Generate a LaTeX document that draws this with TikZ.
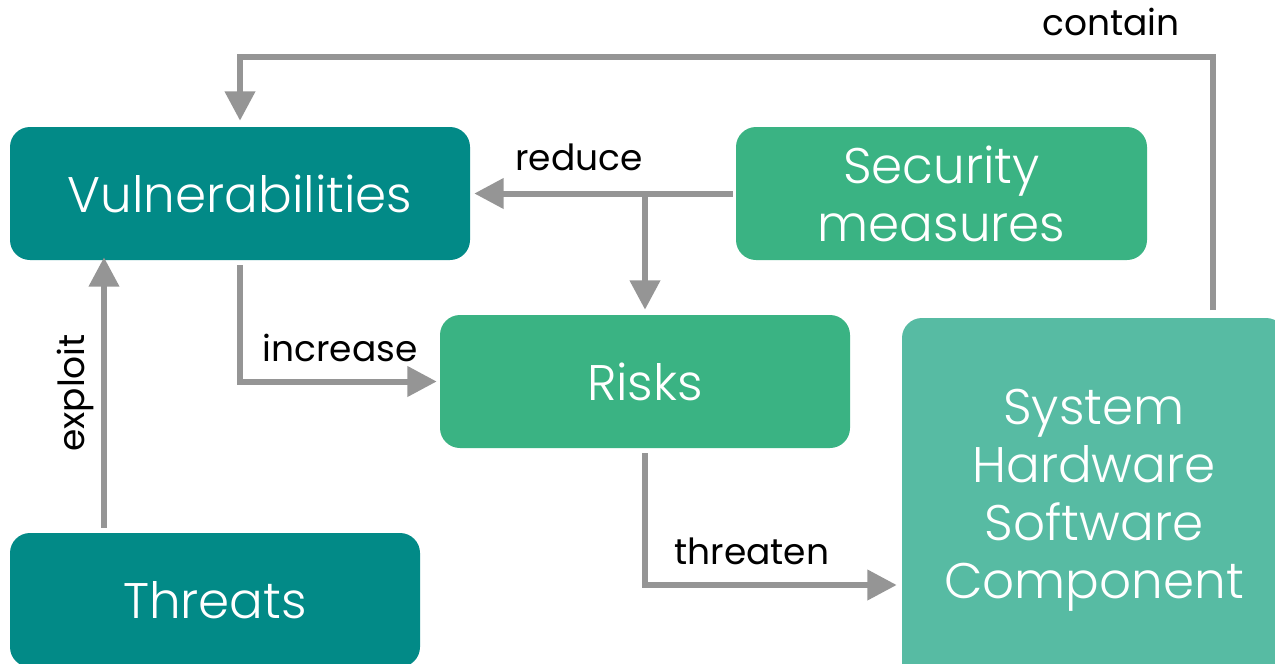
\documentclass[tikz,border=0pt]{standalone}
\usepackage{fontspec}
\setmainfont{Poppins}
\newfontfamily\lightfont{Poppins Light}
\usetikzlibrary{arrows.meta,calc}
\definecolor{teal1}{HTML}{028A87}
\definecolor{green1}{HTML}{3AB383}
\definecolor{green2}{HTML}{57BBA3}
\definecolor{arrgray}{HTML}{959595}
\begin{document}
\begin{tikzpicture}[x=0.75pt,y=-0.75pt,
  box/.style={rounded corners=15pt, text=white, align=center, inner sep=0pt,
    font=\lightfont\fontsize{37.5}{43.5}\selectfont},
  arr/.style={draw=arrgray, line width=4.5pt, -{Triangle[length=22pt,width=22pt]}},
  lab/.style={font=\fontsize{27}{30}\selectfont, text=black, inner sep=0pt}]
\useasboundingbox (0,0) rectangle (1275,664);
\node[box, fill=teal1, minimum width=345pt, minimum height=99.75pt] (vul) at (240,193.5) {Vulnerabilities};
\node[box, fill=green1, minimum width=308.25pt, minimum height=99.75pt] (sec) at (941.5,193.5) {Security\\measures};
\node[box, fill=green1, minimum width=307.5pt, minimum height=99.75pt] (risk) at (645,381.5) {Risks};
\node[box, fill=green2, minimum width=288pt, minimum height=273pt] (sys) at (1094,500) {System\\Hardware\\Software\\Component};
\node[box, fill=teal1, minimum width=307.5pt, minimum height=100.5pt] (thr) at (215,600) {Threats};
\coordinate (cs) at (1213,310);
\coordinate (ctop) at (240,57);
\coordinate (br) at (645,193.5);
\coordinate (ex) at (104,0);
\coordinate (tv) at (645,585);
\draw[arr, shorten >=4.5pt] (cs) |- (ctop) -- (vul.north);
\draw[arr, shorten <=2.25pt, shorten >=3pt] (sec.west) -- (vul.east);
\draw[arr, shorten >=3.75pt] (br) -- (risk.north);
\draw[arr, shorten <=3.75pt, shorten >=2.25pt] (vul.south) |- (risk.west);
\draw[arr, shorten <=3.75pt, shorten >=-2.25pt] (thr.north -| ex) -- (vul.south -| ex);
\draw[arr, shorten <=3.75pt, shorten >=3.75pt] (risk.south) -- (tv) -- (sys.west |- tv);
\node[lab] (lcontain) at (1111,22) {contain};
\node[lab] (lreduce) at (579,157) {reduce};
\node[lab] (lincrease) at (340,348) {increase};
\node[lab, rotate=90] (lexploit) at (75,393) {exploit};
\node[lab] (lthreaten) at (752,551) {threaten};
\end{tikzpicture}
\end{document}
